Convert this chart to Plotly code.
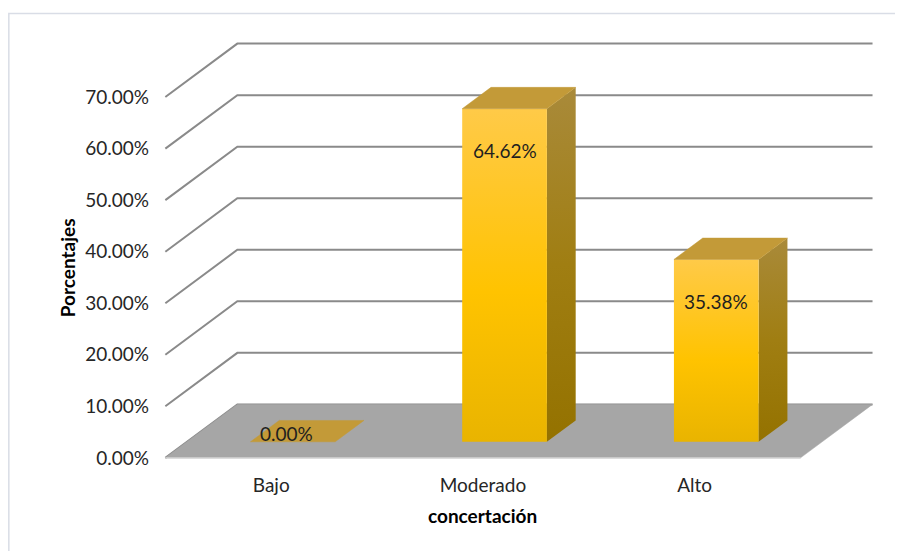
import plotly.graph_objects as go

# ---------------- data ----------------
categories = ["Bajo", "Moderado", "Alto"]
values = [0.00, 64.62, 35.38]          # percent
y_ticks = [0, 10, 20, 30, 40, 50, 60, 70]
x_title = "concertación"
y_title = "Porcentajes"

# ---------------- pseudo-3D geometry (axis units) ----------------
KX = 0.34      # horizontal shift of full depth, in category units
KY = 10.37     # vertical shift of full depth, in percent units
BAR_X = (0.30, 0.70)   # bar extent inside a category
BAR_D = (0.30, 0.70)   # bar extent in depth
NCAT = len(categories)

# pixel calibration (page body has an 8px default margin)
OFF = 8
W, H = 903 - OFF, 551 - OFF
PXC = 211.7    # px per category
PXV = 5.157    # px per percent
X0PIX, Y0PIX = 165.0 - OFF, 458.0 - OFF
XR = [-0.03, NCAT + KX + 0.04]
YR = [-1.0, max(y_ticks) + KY + 0.7]
ML = X0PIX + XR[0] * PXC
MR = W - (X0PIX + XR[1] * PXC)
MT = Y0PIX - YR[1] * PXV
MB = H - (Y0PIX - YR[0] * PXV)
PW = W - ML - MR
PH = H - MT - MB

FONT = "Lato, 'Open Sans', sans-serif"


def P(x, v, d):
    return x + d * KX, v + d * KY


def poly(pts):
    xs = [p[0] for p in pts] + [pts[0][0]]
    ys = [p[1] for p in pts] + [pts[0][1]]
    return xs, ys


def px2paper(px, py):
    # px, py given in page pixels
    px, py = px - OFF, py - OFF
    return (px - ML) / PW, (H - MB - py) / PH


fig = go.Figure()

# gridlines: left diagonal + back wall horizontal
gx, gy = [], []
for v in y_ticks:
    for pt in (P(0, v, 0), P(0, v, 1), P(NCAT, v, 1)):
        gx.append(pt[0]); gy.append(pt[1])
    gx.append(None); gy.append(None)
fig.add_trace(go.Scatter(x=gx, y=gy, mode="lines",
                         line=dict(color="#8a8a8a", width=2),
                         hoverinfo="skip", showlegend=False))

# floor
fx, fy = poly([P(0, 0, 0), P(NCAT, 0, 0), P(NCAT, 0, 1), P(0, 0, 1)])
fig.add_trace(go.Scatter(x=fx, y=fy, mode="lines", fill="toself",
                         fillcolor="#a6a6a6", line=dict(color="#a6a6a6", width=0.5),
                         hoverinfo="skip", showlegend=False))
# floor front edge highlight
fig.add_trace(go.Scatter(x=[P(0, 0, 0)[0], P(NCAT, 0, 0)[0]], y=[0, 0], mode="lines",
                         line=dict(color="#c9c9c9", width=1.5),
                         hoverinfo="skip", showlegend=False))

# bars
annots = []
for i, (cat, v) in enumerate(zip(categories, values)):
    x0, x1 = i + BAR_X[0], i + BAR_X[1]
    d0, d1 = BAR_D
    if v > 0:
        # side face
        sx, sy = poly([P(x1, 0, d0), P(x1, 0, d1), P(x1, v, d1), P(x1, v, d0)])
        fig.add_trace(go.Scatter(
            x=sx, y=sy, mode="lines", fill="toself",
            fillgradient=dict(type="vertical",
                              colorscale=[[0, "#947200"], [0.5, "#a07e12"], [1, "#a98a3a"]]),
            line=dict(color="rgba(0,0,0,0)", width=0),
            hoverinfo="skip", showlegend=False))
        # front face
        ffx, ffy = poly([P(x0, 0, d0), P(x1, 0, d0), P(x1, v, d0), P(x0, v, d0)])
        fig.add_trace(go.Scatter(
            x=ffx, y=ffy, mode="lines", fill="toself",
            fillgradient=dict(type="vertical",
                              colorscale=[[0, "#e9b400"], [0.45, "#ffc300"], [1, "#ffca48"]]),
            line=dict(color="rgba(0,0,0,0)", width=0),
            hoverinfo="skip", showlegend=False))
    # top face
    tx, ty = poly([P(x0, v, d0), P(x1, v, d0), P(x1, v, d1), P(x0, v, d1)])
    fig.add_trace(go.Scatter(x=tx, y=ty, mode="lines", fill="toself",
                             fillcolor="#c39a38", line=dict(color="#c39a38", width=0.5),
                             hoverinfo="skip", showlegend=False))
    # data label
    lx, ly = P((x0 + x1) / 2, v, d0)
    annots.append(dict(x=lx, y=ly, xref="x", yref="y", text=f"{v:.2f}%",
                       xanchor="center", yanchor="middle",
                       showarrow=False, font=dict(family=FONT, size=19, color="#1f1f1f"),
                       xshift=(0 if v > 0 else -6), yshift=(-42 if v > 0 else 8)))

# axis titles
tx_, ty_ = px2paper(0, 516)
annots.append(dict(x=NCAT / 2, y=ty_, xref="x", yref="paper", text=f"<b>{x_title}</b>",
                   xanchor="center", yanchor="middle",
                   showarrow=False, font=dict(family=FONT, size=19, color="#000000")))
ax_, ay_ = px2paper(68, 268)
annots.append(dict(x=ax_, y=ay_, xref="paper", yref="paper", text=f"<b>{y_title}</b>",
                   xanchor="center", yanchor="middle",
                   textangle=-90, showarrow=False,
                   font=dict(family=FONT, size=19, color="#000000")))

# outer chart border
bx0, by0 = px2paper(8.5, 13.5)
bx1, by1 = px2paper(903 + 20, 551 + 20)

fig.update_layout(
    width=W, height=H,
    margin=dict(l=ML, r=MR, t=MT, b=MB, pad=0, autoexpand=False),
    paper_bgcolor="white", plot_bgcolor="white",
    showlegend=False,
    annotations=annots,
    shapes=[dict(type="rect", xref="paper", yref="paper", x0=bx0, y0=by1, x1=bx1, y1=by0,
                 line=dict(color="#d9dde6", width=1.5), fillcolor="rgba(0,0,0,0)",
                 layer="below")],
    xaxis=dict(range=XR, showgrid=False, zeroline=False, showline=False,
               tickvals=[i + 0.5 for i in range(NCAT)], ticktext=categories,
               ticks="", ticklabelstandoff=9, automargin=False,
               tickfont=dict(family=FONT, size=19, color="#262626"), fixedrange=True),
    yaxis=dict(range=YR, showgrid=False, zeroline=False, showline=False,
               tickvals=y_ticks, ticktext=[f"{v:.2f}%" for v in y_ticks],
               ticks="", ticklabelstandoff=9, automargin=False,
               tickfont=dict(family=FONT, size=19, color="#262626"), fixedrange=True),
)

fig.write_html("out.html")
